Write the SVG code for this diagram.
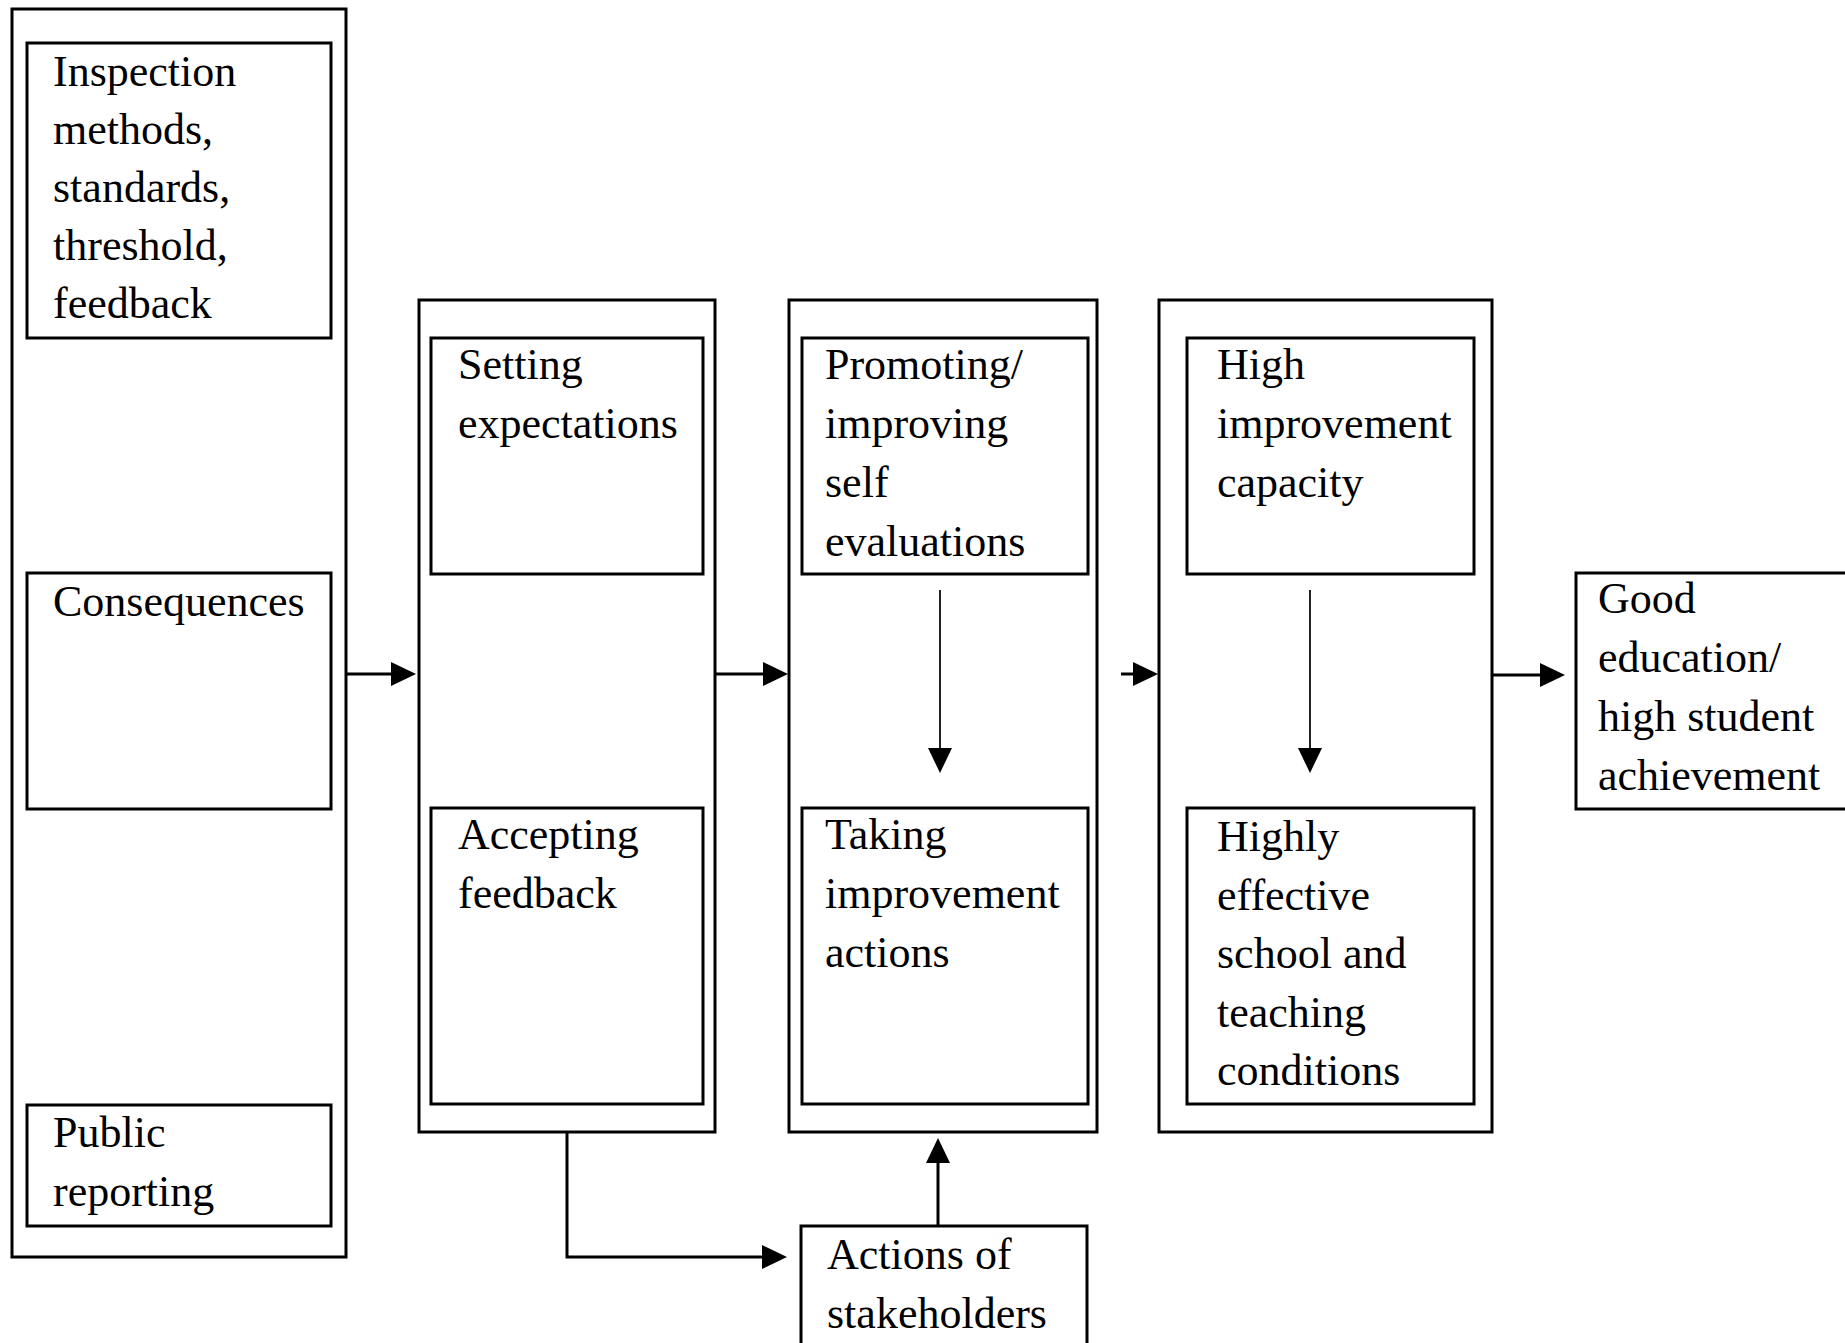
<svg xmlns="http://www.w3.org/2000/svg" width="1845" height="1343" viewBox="0 0 1845 1343">
<style>
.box{fill:none;stroke:#000;stroke-width:3}
.t{font-family:"Liberation Serif","Times New Roman",serif;font-size:44px;fill:#000}
.c{fill:none;stroke:#000;stroke-width:3}
.cv{fill:none;stroke:#222;stroke-width:2}
</style>
<defs>
<marker id="ah" markerUnits="userSpaceOnUse" markerWidth="26" markerHeight="24" refX="4" refY="12" orient="auto" viewBox="0 0 26 24">
<path d="M0,0 L25,12 L0,24 z" fill="#000"/>
</marker>
</defs>
<rect width="1845" height="1343" fill="#fff"/>

<g id="group-inspection">
<rect class="box" x="12" y="9" width="334" height="1248"/>
<g id="inspection-methods">
<rect class="box" x="27" y="43" width="304" height="295"/>
<text class="t" x="53" y="86">Inspection<tspan x="53" dy="58">methods,</tspan><tspan x="53" dy="58">standards,</tspan><tspan x="53" dy="58">threshold,</tspan><tspan x="53" dy="58">feedback</tspan></text>
</g>
<g id="consequences">
<rect class="box" x="27" y="573" width="304" height="236"/>
<text class="t" x="53" y="616">Consequences</text>
</g>
<g id="public-reporting">
<rect class="box" x="27" y="1105" width="304" height="121"/>
<text class="t" x="53" y="1147">Public<tspan x="53" dy="59">reporting</tspan></text>
</g>
</g>

<g id="group-acceptance">
<rect class="box" x="419" y="300" width="296" height="832"/>
<g id="setting-expectations">
<rect class="box" x="431" y="338" width="272" height="236"/>
<text class="t" x="458" y="379">Setting<tspan x="458" dy="59">expectations</tspan></text>
</g>
<g id="accepting-feedback">
<rect class="box" x="431" y="808" width="272" height="296"/>
<text class="t" x="458" y="849">Accepting<tspan x="458" dy="59">feedback</tspan></text>
</g>
</g>

<g id="group-improvement">
<rect class="box" x="789" y="300" width="308" height="832"/>
<g id="self-evaluations">
<rect class="box" x="802" y="338" width="286" height="236"/>
<text class="t" x="825" y="379">Promoting/<tspan x="825" dy="59">improving</tspan><tspan x="825" dy="59">self</tspan><tspan x="825" dy="59">evaluations</tspan></text>
</g>
<g id="improvement-actions">
<rect class="box" x="802" y="808" width="286" height="296"/>
<text class="t" x="825" y="849">Taking<tspan x="825" dy="59">improvement</tspan><tspan x="825" dy="59">actions</tspan></text>
</g>
</g>

<g id="group-capacity">
<rect class="box" x="1159" y="300" width="333" height="832"/>
<g id="improvement-capacity">
<rect class="box" x="1187" y="338" width="287" height="236"/>
<text class="t" x="1217" y="379">High<tspan x="1217" dy="59">improvement</tspan><tspan x="1217" dy="59">capacity</tspan></text>
</g>
<g id="effective-conditions">
<rect class="box" x="1187" y="808" width="287" height="296"/>
<text class="t" x="1217" y="851">Highly<tspan x="1217" dy="58.5">effective</tspan><tspan x="1217" dy="58.5">school and</tspan><tspan x="1217" dy="58.5">teaching</tspan><tspan x="1217" dy="58.5">conditions</tspan></text>
</g>
</g>

<g id="good-education">
<rect class="box" x="1576" y="573" width="290" height="236"/>
<text class="t" x="1598" y="613">Good<tspan x="1598" dy="59">education/</tspan><tspan x="1598" dy="59">high student</tspan><tspan x="1598" dy="59">achievement</tspan></text>
</g>

<g id="stakeholders">
<rect class="box" x="801" y="1226" width="286" height="140"/>
<text class="t" x="827" y="1269">Actions of<tspan x="827" dy="59">stakeholders</tspan></text>
</g>

<g id="connectors">
<path class="c" d="M346,674 H395" marker-end="url(#ah)"/>
<path class="c" d="M715,674 H767" marker-end="url(#ah)"/>
<path class="c" d="M1121,674 H1137" marker-end="url(#ah)"/>
<path class="c" d="M1492,675 H1544" marker-end="url(#ah)"/>
<path class="cv" d="M940,590 V752" marker-end="url(#ah)"/>
<path class="cv" d="M1310,590 V752" marker-end="url(#ah)"/>
<path class="c" d="M567,1132 V1257 H766" marker-end="url(#ah)"/>
<path class="c" d="M938,1226 V1159" marker-end="url(#ah)"/>
</g>
</svg>
